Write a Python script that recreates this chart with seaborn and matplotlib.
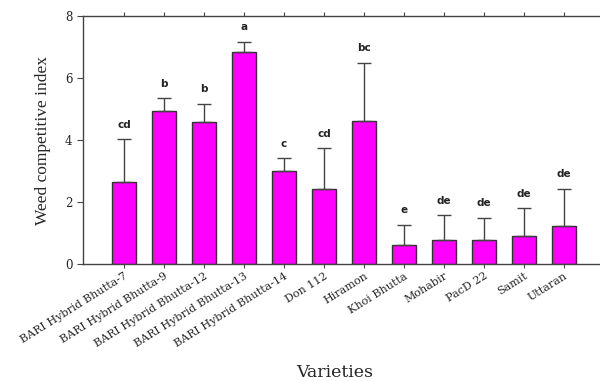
import numpy as np
import pandas as pd
import matplotlib
matplotlib.use("Agg")
import matplotlib.pyplot as plt
import seaborn as sns

varieties = ["BARI Hybrid Bhutta-7", "BARI Hybrid Bhutta-9", "BARI Hybrid Bhutta-12",
             "BARI Hybrid Bhutta-13", "BARI Hybrid Bhutta-14", "Don 112", "Hiramon",
             "Khoi Bhutta", "Mohabir", "PacD 22", "Samit", "Uttaran"]
wci = [2.65, 4.94, 4.59, 6.84, 3.00, 2.43, 4.60, 0.63, 0.78, 0.76, 0.90, 1.22]
err = [1.38, 0.41, 0.58, 0.33, 0.41, 1.31, 1.90, 0.64, 0.79, 0.74, 0.90, 1.21]
letters = ["cd", "b", "b", "a", "c", "cd", "bc", "e", "de", "de", "de", "de"]

df = pd.DataFrame({"Varieties": varieties, "WCI": wci})

sns.set_style("ticks")
plt.rcParams['font.family'] = ['DejaVu Serif', 'Liberation Serif']

fig = plt.figure(figsize=(6, 3.81), dpi=100)
ax = fig.add_axes([0.138, 0.307, 0.862, 0.651])

sns.barplot(data=df, x="Varieties", y="WCI", color="#ff00ff", width=0.6,
            edgecolor="#333333", linewidth=1.0, saturation=1, ax=ax)

xs = np.arange(len(varieties))
ax.errorbar(xs, wci, yerr=[np.zeros(len(err)), err], fmt="none",
            ecolor="#444444", elinewidth=1.0, capsize=5, capthick=1.0)

for x, v, e, l in zip(xs, wci, err, letters):
    ax.text(x, v + e + 0.3, l, ha="center", va="bottom", fontsize=7.5,
            fontweight="bold", family=["DejaVu Sans"], color="#222222")

ax.set_xlim(-1.03, 11.9)
ax.set_ylim(0, 8)
ax.set_yticks([0, 2, 4, 6, 8])
ax.set_xticks(xs)
ax.set_xticklabels(varieties, rotation=32, ha="right", rotation_mode="anchor", fontsize=8)
ax.tick_params(axis="y", labelsize=8.5, direction="out", length=4, color="#444444")
ax.tick_params(axis="x", direction="out", length=3, color="#444444", pad=2)
ax.tick_params(top=True, which="both", labeltop=False)
ax.set_ylabel("Weed competitive index", fontsize=12.5, family=["Liberation Serif"], labelpad=10)
ax.set_xlabel("Varieties", fontsize=12.5)
ax.xaxis.set_label_coords(0.487, -0.405)

for side in ["left", "bottom", "top"]:
    ax.spines[side].set_color("#444444")
    ax.spines[side].set_linewidth(1.0)
ax.spines["right"].set_visible(False)

fig.savefig("out.png", dpi=100)
